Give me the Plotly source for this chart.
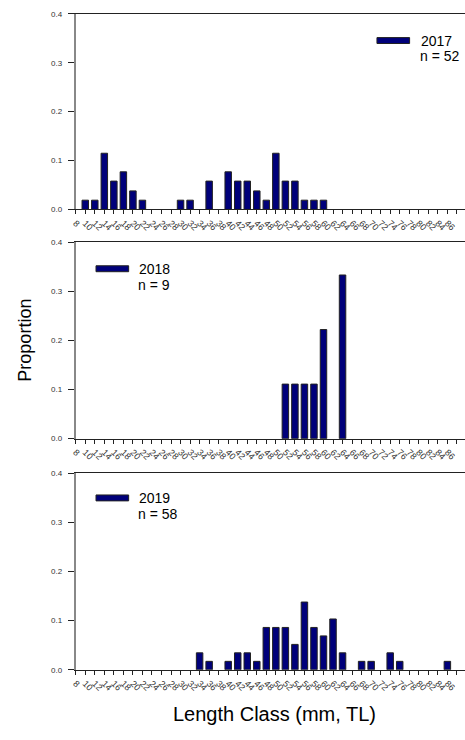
import plotly.graph_objects as go

# ---------------- data ----------------
length_classes = list(range(8, 90, 2))          # tick categories (mm, TL)
tick_labels = [str(v) for v in length_classes]

years = ["2017", "2018", "2019"]
n_values = [52, 9, 58]

len_2017 = [10, 12, 14, 16, 18, 20, 22, 30, 32, 36, 40, 42, 44, 46, 48, 50, 52, 54, 56, 58, 60]
prop_2017 = [0.019, 0.019, 0.115, 0.058, 0.077, 0.038, 0.019, 0.019, 0.019, 0.058, 0.077,
             0.058, 0.058, 0.038, 0.019, 0.115, 0.058, 0.058, 0.019, 0.019, 0.019]

len_2018 = [52, 54, 56, 58, 60, 64]
prop_2018 = [0.111, 0.111, 0.111, 0.111, 0.222, 0.333]

len_2019 = [34, 36, 40, 42, 44, 46, 48, 50, 52, 54, 56, 58, 60, 62, 64, 68, 70, 74, 76, 86]
prop_2019 = [0.0345, 0.0172, 0.0172, 0.0345, 0.0345, 0.0172, 0.0862, 0.0862, 0.0862, 0.0517,
             0.1379, 0.0862, 0.069, 0.1034, 0.0345, 0.0172, 0.0172, 0.0345, 0.0172, 0.0172]

series_x = [len_2017, len_2018, len_2019]
series_y = [prop_2017, prop_2018, prop_2019]

y_ticks = [0.0, 0.1, 0.2, 0.3, 0.4]

# ---------------- layout geometry ----------------
W, H = 465, 740
FONT = "Liberation Sans, Arial, sans-serif"
BAR = "#00007a"

def py(px):
    return 1 - px / H

def pxx(px):
    return px / W

panels = [(10, 208), (241, 440), (475, 674)]   # pixel y of 0.4 and 0.0
x_dom = [pxx(71.5), 1.0]

fig = go.Figure()
layout = dict(
    width=W, height=H,
    margin=dict(l=0, r=0, t=0, b=0),
    paper_bgcolor="white", plot_bgcolor="white",
    showlegend=False,
    font=dict(family=FONT, color="black"),
)

for i in range(3):
    xa = "x" if i == 0 else f"x{i+1}"
    ya = "y" if i == 0 else f"y{i+1}"
    fig.add_trace(go.Bar(
        x=series_x[i], y=series_y[i], xaxis=xa, yaxis=ya,
        width=1.36,
        marker=dict(color=BAR, line=dict(color="#222222", width=1)),
    ))
    top, bot = panels[i]
    layout["xaxis" if i == 0 else f"xaxis{i+1}"] = dict(
        domain=x_dom, anchor=ya, range=[8, 89.7],
        tickmode="array", tickvals=length_classes, ticktext=tick_labels,
        tickangle=45, tickfont=dict(size=9, color="#333333", family=FONT),
        ticks="outside", ticklen=4, tickcolor="#222222", tickwidth=1,
        showline=True, linecolor="#222222", linewidth=1, mirror=True,
        showgrid=False, zeroline=False, fixedrange=True,
    )
    layout["yaxis" if i == 0 else f"yaxis{i+1}"] = dict(
        domain=[py(bot), py(top)], anchor=xa, range=[0, 0.4],
        tickmode="array", tickvals=y_ticks, ticktext=[f"{v:.1f}" for v in y_ticks],
        tickfont=dict(size=8, color="#333333", family=FONT),
        ticks="outside", ticklen=6, tickcolor="#222222", tickwidth=1,
        ticklabelstandoff=4,
        showline=True, linecolor="#888888", linewidth=2,
        showgrid=False, zeroline=False, fixedrange=True,
    )

fig.update_layout(**layout)

# legends (swatch + year + n)
legend_pos = [(376, 37, 418), (92, 268, 133), (92, 500, 133)]
shapes = []
annotations = []
for i, (sx, sy, tx) in enumerate(legend_pos):
    shapes.append(dict(type="rect", xref="paper", yref="paper",
                       x0=pxx(sx), x1=pxx(sx + 33), y0=py(sy + 3), y1=py(sy - 3),
                       fillcolor=BAR, line=dict(color="#222222", width=1)))
    annotations.append(dict(text=years[i], xref="paper", yref="paper",
                            x=pxx(tx), y=py(sy), xanchor="left", yanchor="middle",
                            showarrow=False, font=dict(size=14, family=FONT, color="black")))
    annotations.append(dict(text=f"n = {n_values[i]}", xref="paper", yref="paper",
                            x=pxx(tx - 1), y=py(sy + 16), xanchor="left", yanchor="middle",
                            showarrow=False, font=dict(size=14, family=FONT, color="black")))

annotations.append(dict(text="Proportion", xref="paper", yref="paper",
                        x=pxx(20), y=py(340), xanchor="center", yanchor="middle",
                        textangle=-90, showarrow=False,
                        font=dict(size=18, family=FONT, color="black")))
annotations.append(dict(text="Length Class (mm, TL)", xref="paper", yref="paper",
                        x=pxx(272), y=py(719), xanchor="center", yanchor="middle",
                        showarrow=False, font=dict(size=20, family=FONT, color="black")))

fig.update_layout(shapes=shapes, annotations=annotations)
fig.write_html("out.html")
